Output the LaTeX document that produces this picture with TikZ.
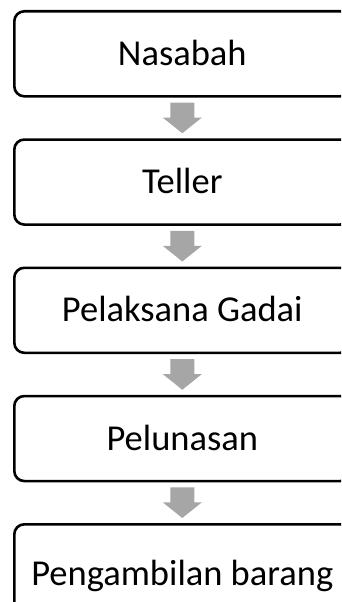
\documentclass[tikz,border=0pt]{standalone}
\usepackage{fontspec}
\setmainfont{Carlito}
\usetikzlibrary{calc}
\definecolor{flowgray}{HTML}{A6A6A6}

% block arrow from the bottom of one stage to the top of the next
\newcommand\flowarrow[2]{%
  \fill[flowgray]
    ($(#1.south)+(-12,-5)$) -- ($(#1.south)+(12,-5)$) --
    ($(#1.south)+(12,-20)$) -- ($(#1.south)+(19.5,-20)$) --
    ($(#2.north)+(0,5)$) --
    ($(#1.south)+(-19.5,-20)$) -- ($(#1.south)+(-12,-20)$) -- cycle;}

\begin{document}
\begin{tikzpicture}[x=1pt,y=1pt,
  stage/.style={draw=black, line width=2.6pt, rounded corners=10pt,
    minimum width=336pt, minimum height=85pt, inner sep=0pt,
    anchor=north west, font=\fontsize{36.5}{42}\selectfont,
    text height=23pt, text depth=0pt},
  laststage/.style={stage, minimum height=100pt}]
\useasboundingbox (0,0) rectangle (341,-602);
\clip (0,0) rectangle (341,-602);

\node[stage] (nasabah) at (13,-10) {Nasabah};
\node[stage] (teller) at (13,-138.25) {Teller};
\node[stage] (gadai) at (13,-266.5) {Pelaksana Gadai};
\node[stage] (lunas) at (13,-394.75) {Pelunasan};
\node[laststage] (ambil) at (13,-523) {Pengambilan barang};

\flowarrow{nasabah}{teller}
\flowarrow{teller}{gadai}
\flowarrow{gadai}{lunas}
\flowarrow{lunas}{ambil}
\end{tikzpicture}
\end{document}
